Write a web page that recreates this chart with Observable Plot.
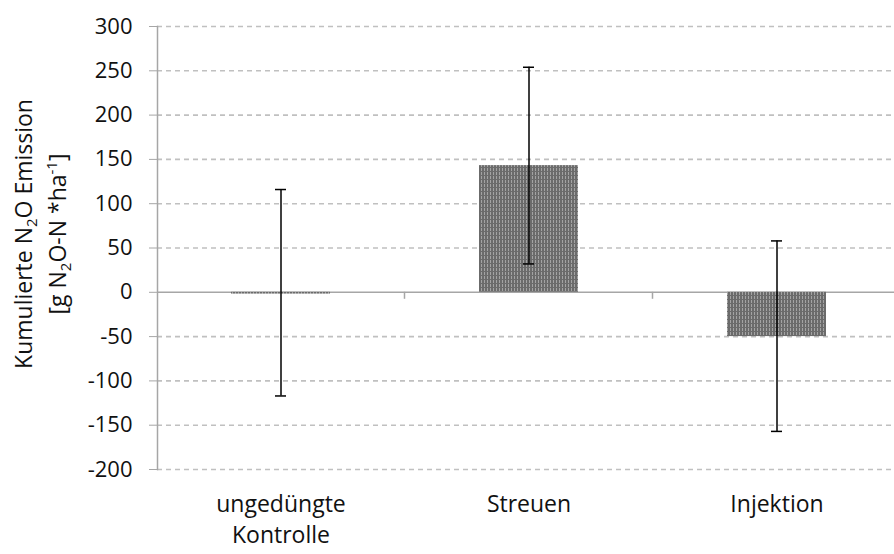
<!DOCTYPE html>
<html><head><meta charset="utf-8">
<script src="https://cdn.jsdelivr.net/npm/d3@7"></script>
<script src="https://cdn.jsdelivr.net/npm/@observablehq/plot@0.6"></script>
<style>
html,body{margin:0;padding:0;background:#fff}
#chart{width:894px;height:554px;overflow:hidden}
</style>
</head><body><div id="chart"></div>
<script>
const categories = ["ungedüngte\nKontrolle", "Streuen", "Injektion"];
const means = [-2, 143, -50];
const errLow = [-117, 32, -157];
const errHigh = [116, 254, 58];
const yTicks = [-200, -150, -100, -50, 0, 50, 100, 150, 200, 250, 300];

const data = categories.map((c, i) => ({cat: c, mean: means[i], lo: errLow[i], hi: errHigh[i]}));
const font = "'Open Sans', Lato, sans-serif";
const axisGray = "#a6a6a6";

const chart = Plot.plot({
  width: 894, height: 554,
  marginTop: 26, marginBottom: 85, marginLeft: 157, marginRight: 0,
  style: {fontFamily: font, fontSize: "22px", color: "#000", background: "#fff", overflow: "hidden"},
  x: {domain: categories, range: [157, 901], paddingInner: 0.6, paddingOuter: 0.3, label: null},
  y: {domain: [-200, 300], label: null},
  marks: [
    Plot.gridY(yTicks.filter(d => d !== 0), {stroke: "#c0c0c0", strokeOpacity: 1, strokeWidth: 1.6, strokeDasharray: "5,4"}),
    Plot.ruleY([0], {stroke: axisGray, strokeWidth: 1.5}),
    Plot.frame({anchor: "left", stroke: axisGray, strokeWidth: 1.5}),
    Plot.barY(data, {x: "cat", y: "mean", fill: "url(#hatch)"}),
    Plot.ruleX(data, {x: "cat", y1: "lo", y2: "hi", stroke: "#000", strokeWidth: 1.5}),
    Plot.tickY(data, {x: "cat", y: "lo", insetLeft: 44, insetRight: 44, stroke: "#000", strokeWidth: 1.5}),
    Plot.tickY(data, {x: "cat", y: "hi", insetLeft: 44, insetRight: 44, stroke: "#000", strokeWidth: 1.5}),
    Plot.axisY({ticks: yTicks, tickSize: 8, tickPadding: 17, stroke: axisGray, fill: "#111",
      fontSize: 22, tickFormat: d => String(d), label: null}),
    Plot.axisX({tickSize: 0, tickPadding: 20, fill: "#111", fontSize: 23, label: null, lineHeight: 1.35})
  ]
});

const svg = d3.select(chart);
svg.insert("defs", ":first-child").html(
  '<pattern id="hatch" patternUnits="userSpaceOnUse" width="3" height="4">' +
  '<rect width="3" height="4" fill="#6b6b6b"/>' +
  '<rect x="1" y="0" width="1" height="3" fill="#a3a3a3"/>' +
  '</pattern>'
);

// category boundary ticks on the zero line, derived from the scales
const xs = chart.scale("x"), ys = chart.scale("y");
const y0 = ys.apply(0);
for (let i = 0; i < categories.length - 1; i++) {
  const bx = xs.apply(categories[i]) + xs.bandwidth + (xs.step - xs.bandwidth) / 2;
  svg.append("line").attr("x1", bx).attr("x2", bx).attr("y1", y0).attr("y2", y0 + 7)
    .attr("stroke", axisGray).attr("stroke-width", 1.5);
}

// rotated y-axis title with sub/superscripts
const title = svg.append("g").attr("font-family", font).attr("font-size", 23).attr("fill", "#111");
const l1 = title.append("text").attr("transform", "translate(24,234) rotate(-90)")
  .attr("text-anchor", "middle").attr("dy", "0.35em");
l1.append("tspan").text("Kumulierte N");
l1.append("tspan").attr("font-size", 15).attr("dy", 5).text("2");
l1.append("tspan").attr("dy", -5).text("O Emission");
const l2 = title.append("text").attr("transform", "translate(58,234) rotate(-90)")
  .attr("text-anchor", "middle").attr("dy", "0.35em");
l2.append("tspan").text("[g N");
l2.append("tspan").attr("font-size", 15).attr("dy", 5).text("2");
l2.append("tspan").attr("dy", -5).text("O-N *ha");
l2.append("tspan").attr("font-size", 15).attr("dy", -9).text("-1");
l2.append("tspan").attr("dy", 9).text("]");

document.getElementById("chart").append(chart);
</script>
</body></html>
